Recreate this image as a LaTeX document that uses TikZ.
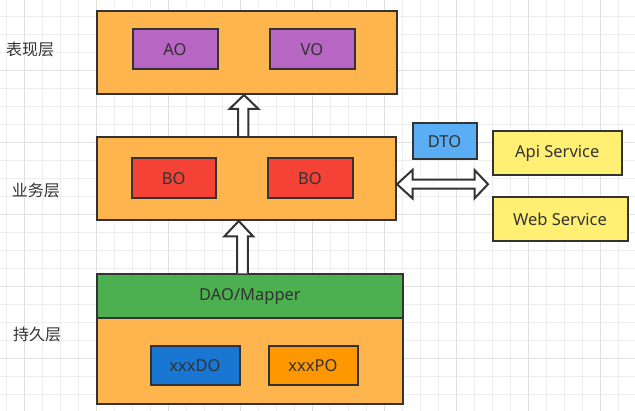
\documentclass[tikz,border=0pt]{standalone}
\usepackage{fontspec}
\setmainfont{Noto Sans}
\newfontfamily\cjkfont{Noto Sans CJK SC}
\usetikzlibrary{calc}
\definecolor{lyr}{RGB}{255,181,77}
\definecolor{pur}{RGB}{183,102,196}
\definecolor{redb}{RGB}{244,67,54}
\definecolor{dtob}{RGB}{90,174,245}
\definecolor{yel}{RGB}{255,240,115}
\definecolor{grn}{RGB}{76,175,80}
\definecolor{dob}{RGB}{25,118,210}
\definecolor{pob}{RGB}{255,152,0}
\definecolor{txt}{RGB}{51,51,51}
\definecolor{gmin}{RGB}{238,238,238}
\definecolor{gmaj}{RGB}{224,224,224}
\tikzset{
  box/.style={draw=txt, line width=2pt, text=txt, font=\fontsize{16.5}{19}\selectfont},
  lbl/.style={text=txt, font=\cjkfont\fontsize{16}{19}\selectfont},
  blk/.style={draw=txt, line width=2pt, fill=white, line join=miter},
}
\begin{document}
\begin{tikzpicture}[x=1pt,y=-1pt]
\useasboundingbox (0,0) rectangle (635,411);
\fill[white] (0,0) rectangle (635,411);
% grid
\foreach \i in {0,...,35} {\draw[gmin, line width=0.8pt] ({6.7+18*\i},0) -- ({6.7+18*\i},411);}
\foreach \i in {0,...,23} {\draw[gmin, line width=0.8pt] (0,{-2+18*\i}) -- (635,{-2+18*\i});}
\foreach \i in {0,...,8} {\draw[gmaj, line width=0.8pt] ({24.7+72*\i},0) -- ({24.7+72*\i},411);}
\foreach \i in {1,...,6} {\draw[gmaj, line width=0.8pt] (0,{-2+72*\i}) -- (635,{-2+72*\i});}

% presentation layer
\node[box, fill=lyr, minimum width=300pt, minimum height=83pt, anchor=north west] (pres) at (96,10) {};
\node[box, fill=pur, minimum width=85pt, minimum height=40pt, anchor=north west] (ao) at (131.5,28.5) {AO};
\node[box, fill=pur, minimum width=85pt, minimum height=40pt, anchor=north west] (vo) at (268.5,28.5) {VO};

% business layer
\node[box, fill=lyr, minimum width=299.5pt, minimum height=83pt, anchor=north west] (bus) at (95.5,136) {};
\node[box, fill=redb, minimum width=84.5pt, minimum height=40pt, anchor=north west] (bo1) at (130.5,157.5) {BO};
\node[box, fill=redb, minimum width=85pt, minimum height=40pt, anchor=north west] (bo2) at (266.5,157.5) {BO};

% persistence layer
\node[box, fill=lyr, minimum width=306pt, minimum height=130pt, anchor=north west] (per) at (96,273.5) {};
\node[box, fill=grn, minimum width=306pt, minimum height=44pt, anchor=north west] (dao) at (96,273.5) {DAO/Mapper};
\node[box, fill=dob, minimum width=89pt, minimum height=39.5pt, anchor=north west] (do) at (149.5,345) {xxxDO};
\node[box, fill=pob, minimum width=89pt, minimum height=39.5pt, anchor=north west] (po) at (267.5,345) {xxxPO};

% right side
\node[box, fill=dtob, minimum width=64pt, minimum height=36.5pt, anchor=north west] (dto) at (411.5,122) {DTO};
\node[box, fill=yel, minimum width=129.5pt, minimum height=44.5pt, anchor=north west] (api) at (491.5,130) {Api Service};
\node[box, fill=yel, minimum width=135pt, minimum height=44.5pt, anchor=north west] (web) at (491.5,196) {Web Service};

% layer labels
\node[lbl] (l1) at (30,49) {表现层};
\node[lbl] (l2) at (36,190.5) {业务层};
\node[lbl] (l3) at (37,334) {持久层};

% up arrow bus -> pres
\coordinate (u1tip) at ([xshift=-3]pres.south);
\coordinate (u1tail) at ([xshift=-3]bus.north);
\draw[blk] let \p1=(u1tip), \p2=(u1tail) in
  (\x2-5.2pt,\y2) -- (\x2-5.2pt,\y1-14pt) -- (\x1-14.5pt,\y1-14pt) -- (\x1,\y1)
  -- (\x1+14.5pt,\y1-14pt) -- (\x2+5.2pt,\y1-14pt) -- (\x2+5.2pt,\y2);

% up arrow per -> bus
\coordinate (u2tip) at ([xshift=-7.5]bus.south);
\coordinate (u2tail) at ([xshift=-7.5]per.north);
\draw[blk] let \p1=(u2tip), \p2=(u2tail) in
  (\x2-5.4pt,\y2) -- (\x2-5.4pt,\y1-15.5pt) -- (\x1-14.5pt,\y1-15.5pt) -- (\x1,\y1)
  -- (\x1+14.5pt,\y1-15.5pt) -- (\x2+5.4pt,\y1-15.5pt) -- (\x2+5.4pt,\y2);

% double arrow bus <-> services
\coordinate (dl) at ([yshift=-5.7]bus.east);
\coordinate (dr) at ($(dl)+(91,0)$);
\draw[blk] let \p1=(dl), \p2=(dr) in
  (\x1,\y1) -- (\x1+15.5pt,\y1+14.2pt) -- (\x1+15.5pt,\y1+4.5pt) -- (\x2-13.5pt,\y1+4.5pt)
  -- (\x2-13.5pt,\y1+14.2pt) -- (\x2,\y2) -- (\x2-13.5pt,\y1-14.2pt) -- (\x2-13.5pt,\y1-4.5pt)
  -- (\x1+15.5pt,\y1-4.5pt) -- (\x1+15.5pt,\y1-14.2pt) -- cycle;
\end{tikzpicture}
\end{document}
